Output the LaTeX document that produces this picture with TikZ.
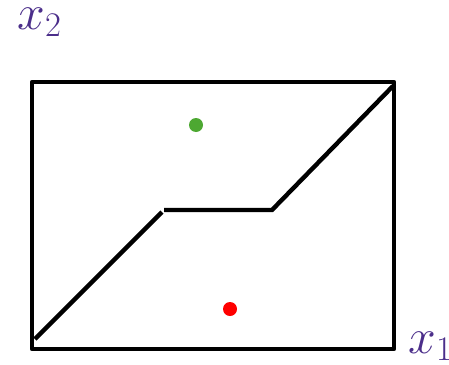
\documentclass[tikz,border=0pt]{standalone}
\usepackage{tikz}
\usetikzlibrary{positioning}
\definecolor{axispurple}{HTML}{4B2E8A}
\definecolor{dotgreen}{HTML}{4DA832}

\begin{document}
\begin{tikzpicture}[x=0.5pt, y=-0.5pt,
    frame/.style={line width=2.2pt, line join=round},
    curve/.style={line width=2.2pt},
    axlabel/.style={text=axispurple, font=\fontsize{25}{30}\selectfont, inner sep=0pt, anchor=base west},
    dot/.style={circle, inner sep=0pt, minimum size=7pt}
]
\useasboundingbox (0,0) rectangle (449,364);

% box
\draw[frame] (32,82) rectangle (394,349);

% the dividing curve
\coordinate (c1) at (35,339);
\coordinate (c2) at (162,212);
\coordinate (c3) at (164,210);
\coordinate (c4) at (272,210);
\coordinate (c5) at (393,86);
\draw[curve] (c1) -- (c2);
\draw[curve] (c3) -- (c4) -- (c5);

% points
\node[dot, fill=dotgreen] (green) at (196,125) {};
\node[dot, fill=red] (red) at (230,309) {};

% axis labels
\node[axlabel] (xtwo) at (17,29) {$x_2$};
\node[axlabel] (xone) at (408,353) {$x_1$};
\end{tikzpicture}
\end{document}
